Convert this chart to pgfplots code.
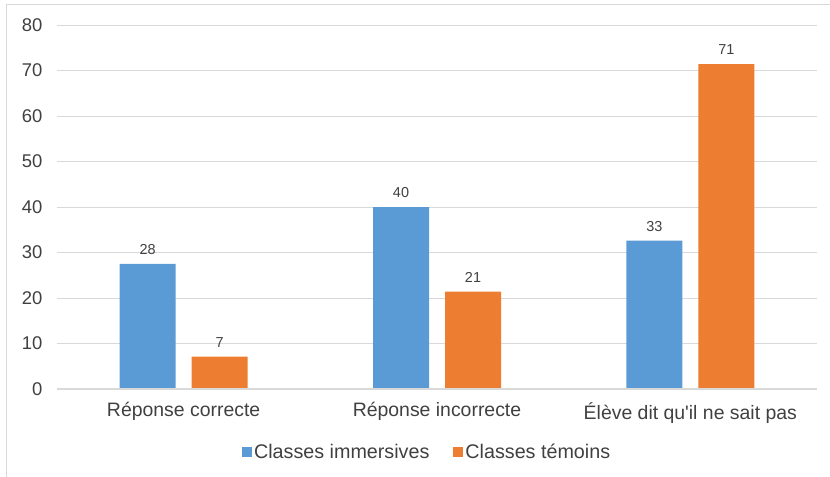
\documentclass[border=0pt]{standalone}
\usepackage{pgfplots}
\pgfplotsset{compat=1.18}
\usepackage{fontspec}
\setmainfont{Liberation Sans}
\definecolor{cblue}{HTML}{5B9BD5}
\definecolor{corange}{HTML}{ED7D31}
\definecolor{cgrid}{HTML}{D9D9D9}
\definecolor{ctext}{HTML}{404040}
\begin{document}
\begin{tikzpicture}
\path[use as bounding box] (0,0) rectangle (830bp,477bp);
\draw[cgrid, line width=1bp] (6bp,0) -- (6bp,472bp) -- (830bp,472bp);
\begin{axis}[
  at={(57bp,88bp)}, anchor=south west,
  scale only axis, width=760bp, height=364bp,
  xmin=-0.5, xmax=2.5, ymin=0, ymax=80,
  ytick={0,10,...,80},
  xtick={0,1,2},
  xticklabels={Réponse correcte, Réponse incorrecte, Élève dit qu\textquotesingle il ne sait pas},
  major tick length=0pt,
  ymajorgrids, grid style={cgrid, line width=1bp},
  axis line style={draw=none},
  /pgf/number format/assume math mode=true,
  tick label style={font=\fontsize{18.5}{20}\selectfont, color=ctext},
  xticklabel style={font=\fontsize{19.5}{21}\selectfont, yshift=-10bp},
  yticklabel style={xshift=-11bp},
  ybar=16bp, bar width=56bp,
  point meta=explicit symbolic,
  nodes near coords,
  nodes near coords style={font=\fontsize{14.5}{16}\selectfont, color=ctext, yshift=6bp},
  legend columns=2,
  legend style={at={(0.487,-0.173)}, anchor=center, draw=none, fill=none,
    font=\fontsize{19.8}{21}\selectfont, text=ctext,
    /tikz/every even column/.append style={column sep=22bp}},
  legend image code/.code={\fill[#1] (0bp,-5bp) rectangle (10bp,5bp);},
  clip=false,
]
\addplot[draw=none, fill=cblue] coordinates {(0,27.5) [28] (1,40) [40] (2,32.6) [33]};
\addplot[draw=none, fill=corange] coordinates {(0,7.1) [7] (1,21.4) [21] (2,71.4) [71]};
\legend{Classes immersives, Classes témoins}
\draw[cgrid, line width=1.3bp] (axis cs:-0.5,0) -- (axis cs:2.5,0);
\end{axis}
\end{tikzpicture}
\end{document}
